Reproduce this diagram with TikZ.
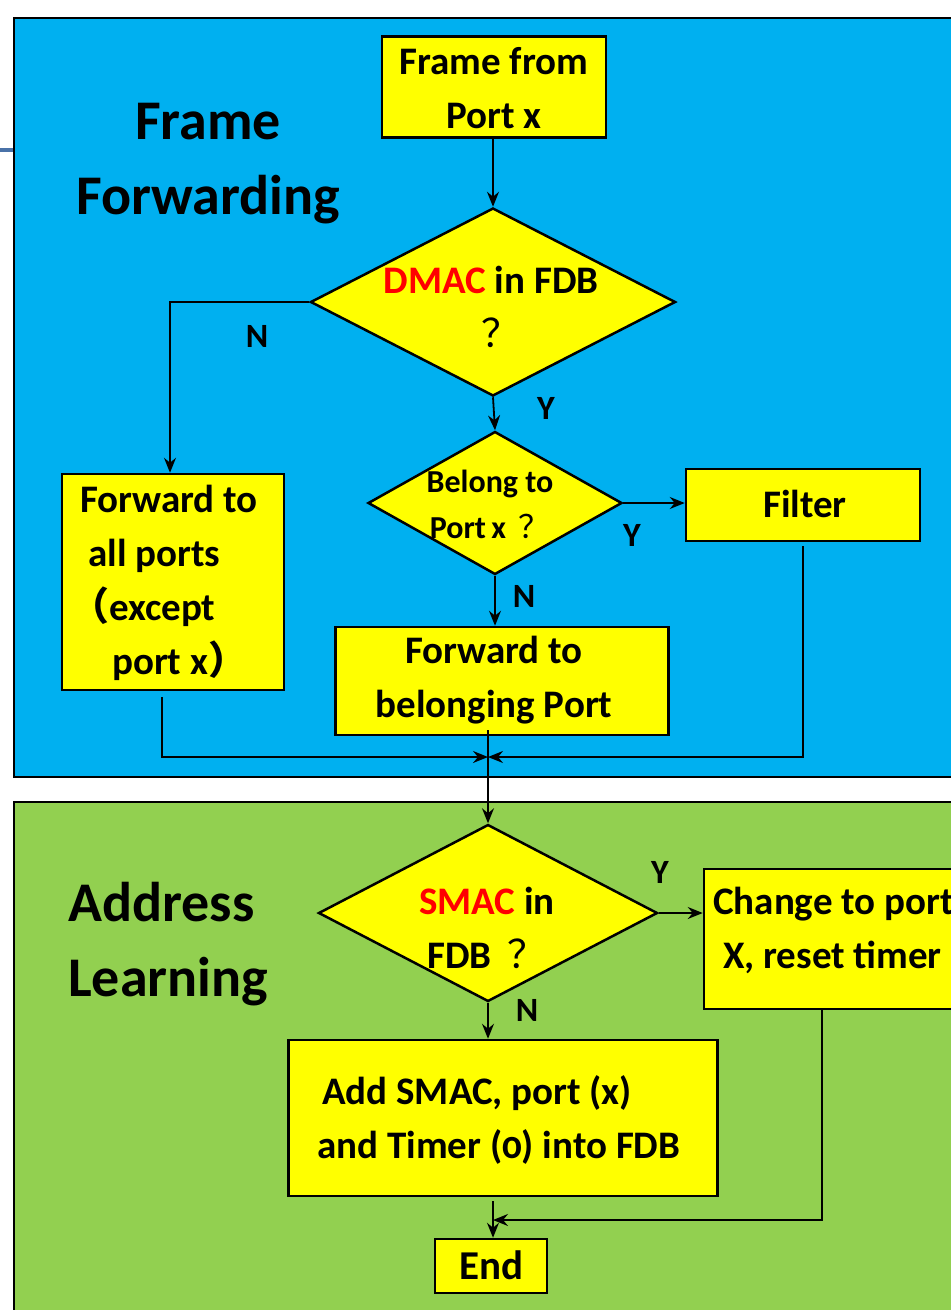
\documentclass[tikz,border=0pt]{standalone}
\usepackage{fontspec}
\setmainfont{Carlito}
\newfontfamily\cjk{Noto Sans CJK SC}
\usetikzlibrary{shapes.geometric,arrows.meta}
\definecolor{regblue}{HTML}{00B0F0}
\definecolor{reggreen}{HTML}{92D050}
\definecolor{boxyellow}{HTML}{FFFF00}
\definecolor{steel}{HTML}{4A72A8}
\newcommand{\fq}{{\cjk\mdseries ？}}
\tikzset{
  region/.style={draw=black, line width=2.5pt},
  stepbox/.style={draw=black, fill=boxyellow, line width=2.5pt, rectangle, inner sep=0pt},
  decbox/.style={draw=black, fill=boxyellow, line width=2.5pt, diamond, inner sep=0pt},
  boxtxt/.style={font=\fontsize{39}{54}\selectfont\bfseries, align=center, inner sep=0pt},
  smalltxt/.style={font=\fontsize{32}{46}\selectfont\bfseries, align=center, inner sep=0pt},
  titletxt/.style={font=\fontsize{56}{75}\selectfont\bfseries, inner sep=0pt},
  lbl/.style={font=\fontsize{34}{34}\selectfont\bfseries, inner sep=0pt},
  flow/.style={draw=black, line width=1.8pt, -{Stealth[length=15pt,width=12pt,inset=5pt]}},
}
\begin{document}
\begin{tikzpicture}[x=1pt,y=-1pt]
\clip (0,0) rectangle (951,1310);
\fill[white] (0,0) rectangle (951,1310);
% regions
\draw[region, fill=regblue] (14,18) rectangle (980,777);
\draw[region, fill=reggreen] (14,802) rectangle (980,1340);
\draw[steel, line width=4pt] (0,150) -- (13,150);
% titles
\node[titletxt, align=center] (t1) at (208,164) {Frame\\Forwarding};
\node[titletxt, align=left, anchor=west] (t2) at (68,944) {Address\\Learning};
% nodes
\node[stepbox, minimum width=224pt, minimum height=101pt] (frame) at (494,87) {};
\node[boxtxt] (frametxt) at (494,88) {Frame from\\Port x};
\node[decbox, minimum width=365pt, minimum height=188pt] (d1) at (493,302) {};
\node[boxtxt] (d1txt) at (491,307) {\textcolor{red}{DMAC} in FDB\\\hspace*{20pt}\fq};
\node[decbox, minimum width=254pt, minimum height=143pt] (d2) at (495,503) {};
\node[smalltxt] (d2txt) at (490,504) {Belong to\\Port\,x\hspace{12pt}\fq};
\node[stepbox, minimum width=234pt, minimum height=72pt] (filter) at (803,505) {};
\node[boxtxt] (filtertxt) at (805,504) {Filter};
\node[stepbox, minimum width=222pt, minimum height=216pt] (fall) at (173,582) {};
\node[boxtxt, align=left, anchor=west] (falltxt) at (80,583) {Forward to\\\hspace*{8pt}all ports\\\hspace*{-10pt}{\cjk（}except\\\hspace*{32pt}port x{\cjk）}};
\node[stepbox, minimum width=333pt, minimum height=108pt] (fbel) at (502,681) {};
\node[boxtxt] (fbeltxt) at (494,680) {Forward to\\belonging Port};
\coordinate (j) at (488,757);
\node[decbox, minimum width=339pt, minimum height=177pt] (d3) at (488,913) {};
\node[boxtxt] (d3txt) at (487,928) {\textcolor{red}{SMAC} in\\FDB\hspace{16pt}\fq};
\node[stepbox, minimum width=270pt, minimum height=140pt] (chg) at (839,939) {};
\node[boxtxt, align=left, anchor=west] (chgtxt) at (713,930) {Change to port\\\hspace*{10pt}X, reset timer};
\node[stepbox, minimum width=429pt, minimum height=156pt] (add) at (503,1118) {};
\node[boxtxt, align=left, anchor=west] (addtxt) at (317,1120) {\hspace*{5pt}Add SMAC, port (x)\\and Timer ({\addfontfeatures{Numbers=OldStyle}0}) into FDB};
\node[stepbox, minimum width=112pt, minimum height=54pt] (endn) at (491,1266) {};
\node[font=\fontsize{41}{41}\selectfont\bfseries, inner sep=0pt] (endtxt) at (491,1265) {End};
\coordinate (k) at (493,1220);
% connectors
\draw[flow] (frame.south -| d1.north) -- (d1.north);
\draw[flow] (d1.west) -| (fall.north -| 170,0);
\node[lbl] (n1) at (257,336) {N};
\draw[flow] (d1.south) -- (d2.north);
\node[lbl] (y1) at (546,408) {Y};
\draw[flow] (d2.east) -- (filter.west |- d2.east);
\node[lbl] (y2) at (632,535) {Y};
\draw[flow] (d2.south) -- (fbel.north -| d2.south);
\node[lbl] (n2) at (524,596) {N};
\draw[flow] ([xshift=-11pt,yshift=-6pt]fall.south) |- (j);
\draw[flow] ([yshift=-4pt]filter.south) |- (j);
\draw[flow] ([yshift=6pt]fbel.south -| d3.north) -- (d3.north);
\draw[flow] (d3.east) -- (chg.west |- d3.east);
\node[lbl] (y3) at (660,872) {Y};
\draw[flow] (d3.south) -- (add.north -| d3.south);
\node[lbl] (n3) at (527,1010) {N};
\draw[flow] ([yshift=-4pt]add.south -| k) -- (endn.north -| k);
\draw[flow] ([xshift=-17pt]chg.south) |- (k);
\end{tikzpicture}
\end{document}
